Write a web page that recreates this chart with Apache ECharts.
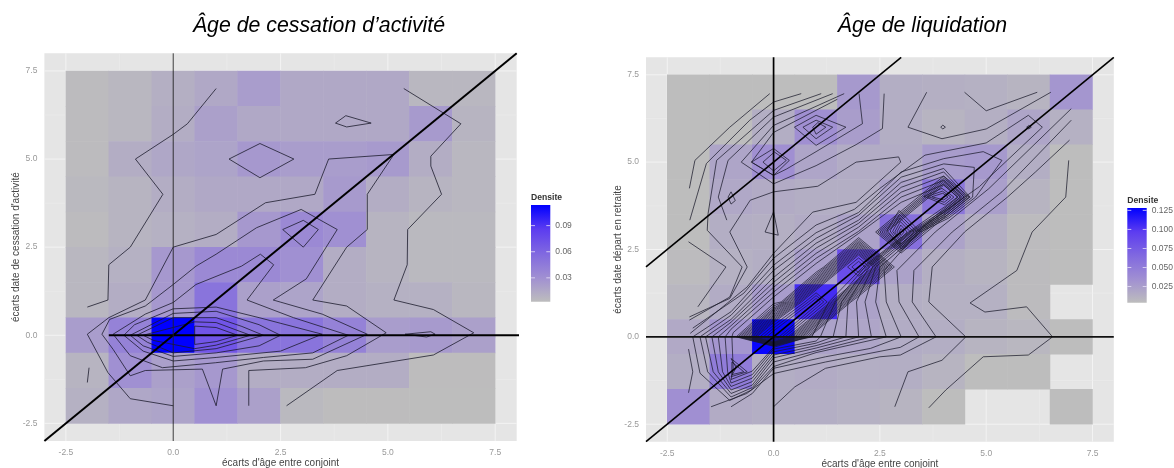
<!DOCTYPE html>
<html>
<head>
<meta charset="utf-8">
<script src="https://cdn.jsdelivr.net/npm/echarts@6/dist/echarts.min.js"></script>
<style>
html,body{margin:0;padding:0;background:#fff}
#c{width:1174px;height:468px;filter:blur(0.45px)}
</style>
</head>
<body>
<div id="c"></div>
<script>
// ---------- axes ----------
const tickValues = [-2.5, 0, 2.5, 5, 7.5];
const minorGrid = [-1.25, 1.25, 3.75, 6.25];
const cellX = [-2, -1, 0, 1, 2, 3, 4, 5, 6, 7];
const cellY = [7, 6, 5, 4, 3, 2, 1, 0, -1, -2];

// ---------- density cells (rows top to bottom, columns left to right) ----------
const densityLeft = [
  [.004,.006,.011,.015,.022,.015,.015,.015,.006,.006],
  [.004,.006,.012,.020,.015,.015,.015,.015,.024,.008],
  [.004,.012,.016,.018,.025,.022,.022,.024,.012,.006],
  [.005,.008,.012,.015,.015,.015,.024,.012,.008,.006],
  [.004,.008,.010,.012,.025,.035,.030,.008,.005,.005],
  [.006,.010,.025,.035,.035,.030,.012,.008,.005,.005],
  [.006,.012,.025,.050,.020,.018,.012,.010,.010,.006],
  [.022,.040,.115,.070,.050,.050,.040,.022,.024,.020],
  [.008,.030,.020,.025,.012,.012,.012,.012,.003,.003],
  [.010,.016,.018,.030,.020,.005,.003,.003,.002,.002]
];
const densityRight = [
  [.002,.002,.002,.004,.028,.014,.013,.012,.010,.030],
  [.002,.002,.014,.035,.025,.014,.010,.013,.020,.012],
  [.002,.020,.035,.020,.015,.015,.026,.028,.014,.004],
  [.004,.018,.016,.014,.014,.022,.055,.024,.010,.003],
  [.004,.014,.013,.016,.022,.060,.022,.013,.005,.003],
  [.005,.012,.014,.024,.085,.022,.013,.010,.005,.003],
  [.008,.015,.026,.105,.022,.014,.012,.012,.005,null],
  [.017,.030,.125,.022,.020,.015,.014,.010,.008,.002],
  [.014,.050,.014,.016,.014,.014,.010,.003,.002,null],
  [.035,.016,.014,.014,.012,.010,.003,null,null,.001]
];

// ---------- reference lines ----------
const leftDiagonal = [[-3,-3],[8,8]];
const leftHorizontal = [[-1.5,0],[9.46,0]];
const leftVertical = [[0,-3],[0,8]];
const rightDiagonal = [[-3,-3],[8,8]];
const rightUpperDiagonal = [[-3,2],[3,8]];
const rightHorizontal = [[-3,0],[8,0]];
const rightVertical = [[0,-3],[0,8]];

// ---------- contours, left panel ----------
const openLeft = [
  [[-2,.8],[-1.52,1],[-1.5,2],[-1,2.5],[-.24,4],[-.88,5],[0,5.7],[.33,6],[1,7]],
  [[5.37,7],[6.7,6],[6,5.08],[6,4.8],[6.25,4],[5.46,3],[5.45,2],[5.14,1],[6.06,.73],[7,.07],[6.06,-.56],[3.82,-1],[2.64,-2]],
  [[-1.96,-.92],[-2,-1.34]],
  [[0,-2],[-1,-1.8],[-1.52,-1.06],[-2,.03],[-1.5,.5],[-.65,1],[0,2.5],[1,2.86],[2.15,3.76],[3.3,4],[3.62,5],[5.14,5.13],[4.52,4],[4.52,3],[4.04,2.5],[3.25,1],[4.04,.83],[4.96,.07],[4.04,-.58],[3.08,-.92],[1.76,-1],[1.76,-2]],
  [[1.15,-.96],[2.1,-.73],[3.25,-.68],[4.52,.03],[3.47,.6],[2.33,1],[3.1,1.6],[3.82,3],[2.98,3.57],[1.94,3.05],[1,2.3],[.53,1.96],[0,1.44],[-.65,.83],[-1.48,.45],[-1.66,.03],[-1.4,-.4],[-1,-1.15],[-.65,-1],[.68,-.96],[1,-2],[1.15,-.96]]
];
const closedLeft = [
  [[1.3,5],[2.02,5.44],[2.81,5],[2.02,4.47]],
  [[3.78,6.02],[4.02,6.23],[4.61,6.02],[4.04,5.91]],
  [[2.55,3],[3.03,3.26],[3.38,3],[3.03,2.5]],
  [[5.4,.03],[6,.1],[6.1,.03],[5.9,-.05]],
  [[1.72,1],[2.34,2],[2.03,2.3],[1.59,1.96],[.53,1.44],[0,.93],[-.65,.6],[-1.4,.03],[-1,-.58],[-.25,-.92],[.98,-.78],[2.1,-.63],[3.25,-.5],[4.08,0],[2.8,.5]],
  [[-1.15,0],[-.9,.3],[0,.75],[1,.8],[2,.5],[3.47,.03],[2.5,-.45],[1,-.63],[0,-.73],[-.7,-.45]],
  [[-1,0],[0,.62],[1,.68],[2,.3],[2.5,0],[2,-.3],[1,-.5],[0,-.6],[-.7,-.3]],
  [[-.85,0],[0,.5],[1,.5],[1.6,.25],[2.1,0],[1,-.38],[0,-.5],[-.6,-.2]],
  [[-.7,0],[.5,.38],[1,.36],[1.8,0],[1,-.28],[.5,-.38],[-.45,-.15]],
  [[.5,.26],[1,.22],[1.5,0],[1,-.18],[.5,-.26]]
];

// ---------- contours, right panel ----------
const openRight = [
  [[3.65,-2.03],[4.05,-1.52],[4.93,-.57],[5.99,-.52],[6.56,0],[5.95,.86],[4.97,.71],[4.62,.97],[5.72,1.9],[6.08,3],[6.87,4],[6.94,5.05]],
  [[2.85,-2],[3.16,-1],[3.96,-.67],[4.52,0],[3.65,1],[3.73,2],[4.49,3],[5.5,4],[6.16,4.72],[6.96,5.63]],
  [[0,-2],[.5,-1.43],[1.22,-.9],[2.5,-.57],[2.98,-.52],[3.82,0],[3.26,1],[3.3,1.9],[4.2,3],[5.37,4.15],[7,6.2]],
  [[-1.47,-2],[-.63,-1.62],[0,-1.05],[1.22,-.72],[2.98,-.3],[3.42,0],[2.95,1],[2.9,1.9],[3.8,3],[5.06,4.24],[7,6.53]],
  [[-1,-2],[-.5,-1.62],[0,-.9],[1.22,-.57],[2.28,-.33],[3,0],[2.65,1],[2.6,1.9],[3.51,3.15],[4.84,4.3],[6.32,6],[5.99,6.34],[5,5.55],[3.56,5.2],[2.5,4.25],[1.9,3.65],[1,3.2],[0,2.25],[-.7,1.25],[-1.9,.25]],
  [[3.6,7],[3.16,6],[3.96,5.67],[5,5.95],[6.52,7]],
  [[4.49,7],[5,6.47],[6.2,7]],
  [[-1.98,4.25],[-1.85,5.05],[-1.03,6],[-.09,6.96]],
  [[-1.97,3.34],[-1.58,4.96],[-.56,6.2],[0,6.72],[.65,6.96]],
  [[-1.98,.48],[-1.03,1.14],[-.74,2],[-1.56,3.05],[-1.54,3.53],[-1.34,5.05],[0,6.48],[1.12,6.96]],
  [[-1.1,3.34],[-1.3,4],[-1.07,5.05],[0,6.29],[1.39,6.96]],
  [[1.66,6.96],[0,6.05],[-.76,5],[0,4.38],[1,4.9],[1.94,5.5],[2.56,5.96],[2.6,6.96]],
  [[2.01,6.96],[2.09,6.1],[1,5.3],[.3,4.8],[0,4.62],[-.52,5],[0,5.85],[1.5,6.8]],
  [[-1.98,.57],[-1.03,1.1],[-.62,2],[-1.03,3],[-.55,3.91],[0,4.15],[1.04,4.31],[1.94,5],[2.94,5.15],[2.99,5],[1.94,3.85],[.92,3.57],[0,2.39],[-.62,1.43],[-1.96,.1]],
  [[-2,2.72],[-1.12,2],[-1.78,.86]],
  [[-2,-.35],[-1.9,-1],[-2,-1.6]]
];
const closedRight = [
  [[.49,6],[1,6.34],[1.7,6],[1,5.48]],
  [[.69,6],[1,6.2],[1.39,6],[1,5.67]],
  [[.92,6],[1.04,6.13],[1.23,6],[1,5.8]],
  [[-.52,5],[0,5.39],[.37,5.05],[0,4.62]],
  [[-.25,5],[.02,5.29],[.3,5.05],[0,4.75]],
  [[-1.07,4],[-1,4.15],[-.9,3.9],[-1,3.8]],
  [[0,3.58],[-.2,3],[.11,2.91]],
  [[3.93,6],[3.98,6.06],[4.04,6],[3.98,5.95]],
  [[5.95,6],[6,6.05],[6.06,6],[6,5.95]],
  // level loops wrapping the whole diagonal band
  [[-1.9,0],[-1,.72],[0,2.05],[1,2.98],[2,3.56],[3,4.72],[4,5.1],[4.93,5.3],[5.37,5.05],[4.75,4],[4.12,3.4],[3.45,3],[2.5,2],[2.4,1],[2.65,0],[1,-.45],[0,-.85],[-.52,-1.52],[-1.03,-1.82],[-1.73,-1.04]],
  [[-1.73,0],[-1,.62],[0,1.9],[1,2.82],[2,3.48],[3,4.57],[4,4.95],[4.72,4.85],[4.68,4],[4.1,3.44],[3.38,3],[2.4,2],[2.15,1],[2.3,0],[1,-.4],[0,-.72],[-.5,-1.45],[-1,-1.72],[-1.55,-1]],
  [[-1.6,0],[-1,.5],[0,1.7],[1,2.68],[2,3.34],[3,4.42],[4,4.82],[4.62,4],[4.08,3.48],[3.32,3],[2.33,2],[1.95,1],[2,0],[1,-.32],[0,-.6],[-.5,-1.38],[-1,-1.62],[-1.42,-1]],
  [[-1.45,0],[-1,.42],[0,1.56],[1,2.54],[2,3.25],[3,4.28],[4,4.72],[4.56,4],[4.05,3.52],[3.27,3],[2.25,2],[1.75,1],[1.7,0],[1,-.25],[0,-.52],[-.5,-1.28],[-1,-1.52],[-1.3,-1]],
  [[-1.3,0],[-1,.32],[0,1.42],[1,2.39],[2,3.14],[3,4.14],[4,4.6],[4.48,4],[4.04,3.58],[3.23,3],[2.2,2],[1.6,1],[1.4,0],[1,-.18],[0,-.43],[-.5,-1.18],[-1,-1.42],[-1.2,-1]],
  [[-1.14,0],[-1,.22],[0,1.28],[1,2.25],[2,3.02],[3,4],[4,4.48],[4.4,4],[4.03,3.64],[3.2,3],[2.15,2],[1.45,1],[1.1,0],[1,-.12],[0,-.35],[-.5,-1.08],[-1,-1.32],[-1.08,-1]],
  [[-.98,0],[-.95,.12],[0,1.14],[1,2.1],[2,2.96],[3,3.85],[4,4.36],[4.32,4],[4.02,3.72],[3.17,3],[2.1,2],[1.3,1],[.9,0],[.6,-.08],[0,-.3],[-.5,-.98],[-1,-1.22],[-.95,-.9]],
  // ridge at (-1,-1)
  [[-1,-.62],[-.62,-1],[-1,-1.14],[-.88,-.88]],
  [[-.98,-.72],[-.7,-1],[-.98,-1.08]],
  // peak at (3,3)
  [[2.67,3.05],[2.95,3.62],[3.45,3],[3.02,2.5]],
  [[2.74,3.03],[2.96,3.5],[3.38,3],[3.02,2.58]],
  [[2.8,3.02],[2.97,3.4],[3.3,3],[3.01,2.66]],
  [[2.85,3],[2.98,3.3],[3.22,3],[3,2.74]],
  [[2.9,3],[2.99,3.2],[3.14,3],[3,2.82]],
  [[2.95,3],[3,3.1],[3.07,3],[3,2.9]],
  // ridge from (3,3) to (4,4)
  [[2.4,3],[3,3.6],[3.4,4],[4,4.6],[4.6,4],[4,3.4],[3.6,3],[3,2.4]],
  [[2.45,3],[3,3.54],[3.46,4],[4,4.54],[4.54,4],[4,3.46],[3.54,3],[3,2.46]],
  [[2.5,3],[3,3.49],[3.51,4],[4,4.49],[4.49,4],[4,3.51],[3.49,3],[3,2.51]],
  [[2.55,3],[3,3.44],[3.56,4],[4,4.44],[4.44,4],[4,3.56],[3.44,3],[3,2.56]],
  [[2.6,3],[3,3.39],[3.61,4],[4,4.39],[4.39,4],[4,3.61],[3.39,3],[3,2.61]],
  [[2.65,3],[3,3.34],[3.66,4],[4,4.34],[4.34,4],[4,3.66],[3.34,3],[3,2.66]],
  // peak at (4,4)
  [[3.54,4.02],[3.96,4.25],[4.24,4],[4.02,3.78]],
  [[3.62,4.02],[3.97,4.17],[4.17,4],[4.01,3.85]],
  [[3.72,4.01],[3.98,4.11],[4.1,4],[4,3.92]]
];
// dense ridge from (0,0) to (2,2)
const ridgeRight = [
  [[-.88,0],[0,.95],[.18,1],[1,1.85],[1.18,2],[2,2.84],[2.84,2],[2,1.16],[1.82,1],[1,.16],[.84,0],[0,-.27]],
  [[-.84,0],[0,.88],[.22,1],[1,1.8],[1.22,2],[2,2.79],[2.79,2],[2,1.21],[1.78,1],[1,.2],[.8,0],[0,-.26]],
  [[-.8,0],[0,.82],[.26,1],[1,1.75],[1.26,2],[2,2.74],[2.75,2],[2,1.26],[1.74,1],[1,.25],[.75,0],[0,-.25]],
  [[-.76,0],[0,.78],[.3,1],[1,1.7],[1.3,2],[2,2.7],[2.7,2],[2,1.3],[1.7,1],[1,.3],[.7,0],[0,-.24]],
  [[-.72,0],[0,.74],[.34,1],[1,1.66],[1.34,2],[2,2.66],[2.66,2],[2,1.34],[1.66,1],[1,.34],[.66,0],[0,-.23]],
  [[-.68,0],[0,.7],[.38,1],[1,1.62],[1.38,2],[2,2.62],[2.62,2],[2,1.38],[1.62,1],[1,.38],[.62,0],[0,-.22]],
  [[-.64,0],[0,.65],[.42,1],[1,1.58],[1.42,2],[2,2.58],[2.58,2],[2,1.42],[1.58,1],[1,.42],[.58,0],[0,-.21]],
  [[-.6,0],[0,.61],[.46,1],[1,1.54],[1.46,2],[2,2.54],[2.54,2],[2,1.46],[1.54,1],[1,.46],[.54,0],[0,-.2]],
  [[-.56,0],[0,.57],[.5,1],[1,1.5],[1.5,2],[2,2.5],[2.5,2],[2,1.5],[1.5,1],[1,.5],[.5,0],[0,-.19]],
  [[-.52,0],[0,.53],[.54,1],[1,1.46],[1.54,2],[2,2.46],[2.46,2],[2,1.54],[1.46,1],[1,.54],[.46,0],[0,-.18]],
  [[-.48,0],[0,.49],[.58,1],[1,1.42],[1.58,2],[2,2.42],[2.42,2],[2,1.58],[1.42,1],[1,.58],[.42,0],[0,-.17]],
  [[-.44,0],[0,.45],[.62,1],[1,1.38],[1.62,2],[2,2.38],[2.38,2],[2,1.62],[1.38,1],[1,.62],[.38,0],[0,-.16]],
  [[-.4,0],[0,.41],[.66,1],[1,1.34],[1.66,2],[2,2.34],[2.34,2],[2,1.66],[1.34,1],[1,.66],[.34,0],[0,-.15]],
  [[-.32,0],[0,.33],[.74,1],[1,1.26],[1.26,1],[1,.74],[.27,0],[0,-.13]],
  [[-.24,0],[0,.25],[.82,1],[1,1.18],[1.18,1],[1,.82],[.2,0],[0,-.1]],
  [[-.16,0],[0,.17],[.9,1],[1,1.1],[1.1,1],[1,.9],[.13,0],[0,-.07]],
  [[1.74,2],[2,2.26],[2.26,2],[2,1.74]],
  [[1.84,2],[2,2.16],[2.16,2],[2,1.84]]
];

// ---------- legend ----------
const legendTitle = 'Densite';
const legendLeftValues = [0.09, 0.06, 0.03];
const legendRightValues = [0.125, 0.100, 0.075, 0.050, 0.025];
const rampColors = ['#bdbdbd', '#a08fd2', '#8068e0', '#5c3cf0', '#0000ff'];

// ---------- page layout ----------
const gridL = {left:44.4, top:53.3, width:472.3, height:387.7};
const gridR = {left:646, top:57.3, width:467.8, height:384.4};
const legendL = {x:531, y:205, w:19.3, h:96.7, top:.1138, bottom:.0026, decimals:2};
const legendR = {x:1127.3, y:208, w:19.4, h:94.7, top:.128, bottom:.0037, decimals:3};

function cellData(rows){
  const out=[];
  rows.forEach((r,i)=>r.forEach((v,j)=>{ if(v!==null) out.push([cellX[j],cellY[i],v]); }));
  return out;
}
function cellSeries(rows,g){
  return {
    type:'custom', xAxisIndex:g, yAxisIndex:g, z:2, silent:true,
    data:cellData(rows), encode:{x:0,y:1},
    renderItem:(p,api)=>{
      const a=api.coord([api.value(0)-.5,api.value(1)+.5]);
      const b=api.coord([api.value(0)+.5,api.value(1)-.5]);
      return {type:'rect',shape:{x:a[0]-.25,y:a[1]-.25,width:b[0]-a[0]+.5,height:b[1]-a[1]+.5},
              style:{fill:api.visual('color'),stroke:null}};
    }
  };
}
function lineS(data,g,color,width,z,clip,opacity){
  return {type:'line',xAxisIndex:g,yAxisIndex:g,data:data,showSymbol:false,symbol:'none',silent:true,
          clip:clip,z:z,animation:false,lineStyle:{color:color,width:width,opacity:opacity===undefined?1:opacity,join:'miter'}};
}
function gridLines(g){
  const s=[];
  tickValues.forEach(v=>{s.push(lineS([[v,-3],[v,8]],g,'#f3f3f3',1,1,true));s.push(lineS([[-3,v],[8,v]],g,'#f3f3f3',1,1,true));});
  minorGrid.forEach(v=>{s.push(lineS([[v,-3],[v,8]],g,'#ececec',.6,1,true));s.push(lineS([[-3,v],[8,v]],g,'#ececec',.6,1,true));});
  return s;
}
function contourS(open,closed,g,width,op){
  const s=[];
  open.forEach(c=>s.push(lineS(c,g,'#1a1a2a',width,3,true,op)));
  closed.forEach(c=>s.push(lineS(c.concat([c[0]]),g,'#1a1a2a',width,3,true,op)));
  return s;
}
function axes(g,pos,name,gap){
  return {
    type:'value',gridIndex:g,min:-3,max:8,position:pos,
    name:name,nameLocation:'middle',nameGap:gap,nameMoveOverlap:false,
    nameTextStyle:{fontFamily:'Liberation Sans',fontSize:10,color:'#444'},
    axisLine:{show:false},splitLine:{show:false},
    axisTick:{show:true,length:3,customValues:tickValues,lineStyle:{color:'#999',width:.8}},
    axisLabel:{show:true,customValues:tickValues,margin:7,fontFamily:'Liberation Sans',fontSize:8.5,color:'#999',
               showMinLabel:true,showMaxLabel:true,hideOverlap:false,formatter:v=>Number(v).toFixed(1)}
  };
}
function legendGraphic(L,values){
  const items=[];
  const stops=rampColors.map((c,i)=>({offset:1-i/(rampColors.length-1),color:c}));
  items.push({type:'rect',shape:{x:L.x,y:L.y,width:L.w,height:L.h},
    style:{fill:new echarts.graphic.LinearGradient(0,0,0,1,stops)}});
  items.push({type:'text',x:L.x,y:L.y-7,style:{text:legendTitle,fontFamily:'Liberation Sans',fontWeight:'bold',fontSize:8.6,fill:'#333',verticalAlign:'middle'}});
  values.forEach(v=>{
    const y=L.y+L.h*(L.top-v)/(L.top-L.bottom);
    items.push({type:'rect',shape:{x:L.x,y:y-.4,width:4,height:.8},style:{fill:'#e8e0f8'}});
    items.push({type:'rect',shape:{x:L.x+L.w-4,y:y-.4,width:4,height:.8},style:{fill:'#e8e0f8'}});
    items.push({type:'text',x:L.x+L.w+5,y:y,style:{text:v.toFixed(L.decimals),fontFamily:'Liberation Sans',fontSize:8.5,fill:'#666',verticalAlign:'middle'}});
  });
  return items;
}
const titleStyle={fontFamily:'Liberation Sans',fontStyle:'italic',fontWeight:'normal',fontSize:21.3,color:'#000'};

const chart=echarts.init(document.getElementById('c'),null,{renderer:'canvas'});
chart.setOption({
  animation:false,
  backgroundColor:'#fff',
  title:[
    {text:'Âge de cessation d’activité',left:314,top:11,textAlign:'center',textStyle:titleStyle},
    {text:'Âge de liquidation',left:917.5,top:11,textAlign:'center',textStyle:titleStyle}
  ],
  grid:[
    Object.assign({show:true,backgroundColor:'#e5e5e5',borderWidth:0,outerBoundsMode:'none'},gridL),
    Object.assign({show:true,backgroundColor:'#e5e5e5',borderWidth:0,outerBoundsMode:'none'},gridR)
  ],
  xAxis:[axes(0,'bottom','écarts d\'âge entre conjoint',17.5),axes(1,'bottom','écarts d\'âge entre conjoint',17.5)],
  yAxis:[axes(0,'left','écarts date de cessation d\'activité',23.4),axes(1,'left','écarts date départ en retraite',23)],
  visualMap:[
    {show:false,type:'continuous',seriesIndex:0,dimension:2,min:legendL.bottom,max:legendL.top,inRange:{color:rampColors}},
    {show:false,type:'continuous',seriesIndex:1,dimension:2,min:legendR.bottom,max:legendR.top,inRange:{color:rampColors}}
  ],
  series:[
    cellSeries(densityLeft,0),
    cellSeries(densityRight,1),
    ...gridLines(0),...gridLines(1),
    ...contourS(openLeft,closedLeft,0,1,.78),
    ...contourS(openRight,closedRight,1,.95,.78),
    ...contourS([],ridgeRight,1,.9,.75),
    lineS(leftDiagonal,0,'#000',2,5,true),
    lineS(leftHorizontal,0,'#000',2,5,false),
    lineS(leftVertical,0,'#222',.9,5,true),
    lineS(rightDiagonal,1,'#000',1.6,5,true),
    lineS(rightUpperDiagonal,1,'#000',1.6,5,true),
    lineS(rightHorizontal,1,'#111',1.7,5,true),
    lineS(rightVertical,1,'#000',1.7,5,true)
  ],
  graphic:{elements:[...legendGraphic(legendL,legendLeftValues),...legendGraphic(legendR,legendRightValues)]}
});
</script>
</body>
</html>
